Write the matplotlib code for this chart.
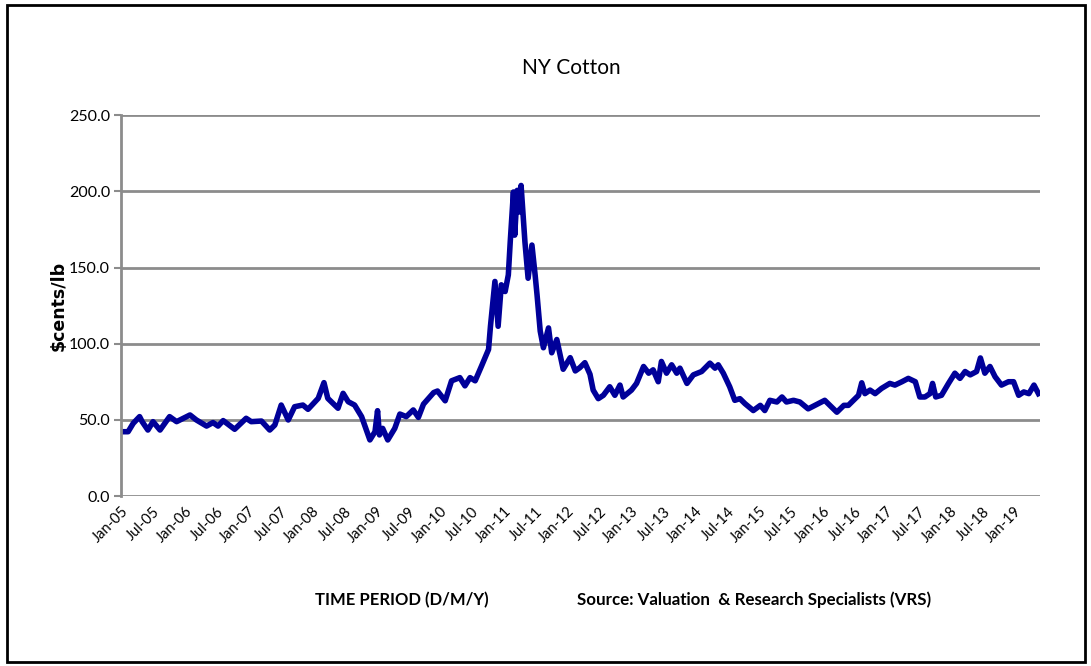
import matplotlib
matplotlib.use("Agg")
import matplotlib.pyplot as plt
from matplotlib.patches import Rectangle

# NY Cotton price (decimal year, cents/lb)
years = [
    2005.00, 2005.11, 2005.19, 2005.29, 2005.33, 2005.42, 2005.50, 2005.61,
    2005.76, 2005.87, 2006.08, 2006.18, 2006.34, 2006.44, 2006.52, 2006.60,
    2006.78, 2006.96, 2007.04, 2007.20, 2007.33, 2007.41, 2007.51, 2007.62,
    2007.72, 2007.85, 2007.93, 2008.09, 2008.18, 2008.24, 2008.40, 2008.48,
    2008.56, 2008.66, 2008.77, 2008.90, 2008.98, 2009.02, 2009.05, 2009.10,
    2009.18, 2009.29, 2009.37, 2009.47, 2009.58, 2009.66, 2009.74, 2009.90,
    2009.96, 2010.08, 2010.18, 2010.31, 2010.39, 2010.47, 2010.55, 2010.65,
    2010.76, 2010.79, 2010.86, 2010.91, 2010.96, 2011.02, 2011.07, 2011.10,
    2011.15, 2011.17, 2011.21, 2011.24, 2011.27, 2011.33, 2011.38, 2011.44,
    2011.49, 2011.52, 2011.57, 2011.62, 2011.70, 2011.75, 2011.83, 2011.93,
    2012.04, 2012.12, 2012.19, 2012.27, 2012.35, 2012.40, 2012.48, 2012.56,
    2012.66, 2012.74, 2012.82, 2012.87, 2013.00, 2013.08, 2013.19, 2013.27,
    2013.34, 2013.42, 2013.47, 2013.55, 2013.63, 2013.71, 2013.76, 2013.87,
    2013.97, 2014.10, 2014.23, 2014.31, 2014.36, 2014.44, 2014.54, 2014.62,
    2014.70, 2014.78, 2014.91, 2015.02, 2015.09, 2015.17, 2015.28, 2015.36,
    2015.43, 2015.54, 2015.64, 2015.77, 2015.93, 2016.03, 2016.14, 2016.22,
    2016.33, 2016.40, 2016.48, 2016.56, 2016.61, 2016.66, 2016.74, 2016.82,
    2016.92, 2017.05, 2017.13, 2017.24, 2017.34, 2017.45, 2017.52, 2017.60,
    2017.68, 2017.72, 2017.77, 2017.86, 2017.97, 2018.07, 2018.15, 2018.23,
    2018.31, 2018.41, 2018.47, 2018.54, 2018.62, 2018.70, 2018.80, 2018.91,
    2018.99, 2019.07, 2019.15, 2019.23, 2019.31, 2019.38,
]
price = [
    42.3, 42.3, 47.8, 52.2, 48.9, 43.4, 48.9, 43.4,
    52.2, 48.9, 53.3, 50.0, 46.0, 48.3, 46.0, 49.6,
    43.9, 51.1, 48.9, 49.3, 43.4, 46.7, 59.8, 50.0,
    58.7, 59.8, 57.0, 64.2, 74.5, 64.2, 57.7, 67.5,
    62.0, 59.8, 52.2, 36.9, 42.3, 56.1, 40.2, 44.5,
    36.9, 44.5, 53.9, 52.2, 56.6, 51.7, 60.4, 68.0,
    69.0, 62.6, 75.7, 77.8, 72.4, 77.8, 75.7, 85.4,
    96.3, 111.5, 140.9, 111.5, 138.7, 134.3, 145.2, 167.0,
    199.6, 171.3, 200.7, 186.5, 203.9, 167.0, 143.0, 164.8,
    145.2, 132.2, 108.3, 97.4, 110.4, 94.1, 102.8, 83.3,
    90.9, 82.2, 84.3, 87.6, 80.0, 69.6, 64.0, 66.2,
    71.8, 66.2, 72.9, 65.1, 69.6, 74.0, 85.1, 80.7,
    82.9, 75.1, 88.4, 80.7, 86.2, 80.7, 84.0, 74.0,
    79.6, 81.8, 87.3, 84.0, 86.2, 80.7, 71.8, 62.9,
    64.0, 60.7, 56.2, 59.6, 56.2, 62.9, 61.8, 65.1,
    61.8, 62.9, 61.8, 57.3, 60.7, 62.9, 58.4, 55.1,
    59.6, 59.6, 62.9, 66.2, 74.4, 67.3, 69.6, 67.3,
    70.7, 74.0, 72.9, 75.1, 77.3, 75.1, 65.1, 65.1,
    67.3, 74.0, 65.1, 66.2, 74.0, 80.7, 77.3, 81.8,
    79.6, 81.8, 90.7, 80.7, 85.1, 78.4, 72.9, 75.1,
    75.1, 66.2, 68.4, 67.3, 72.9, 67.3,
]

tick_pos = [2005 + 0.5 * i for i in range(29)]
tick_labels = [("Jan-" if i % 2 == 0 else "Jul-") + f"{(5 + i // 2):02d}" for i in range(29)]
y_ticks = [0, 50, 100, 150, 200, 250]

font = ["Lato", "DejaVu Sans"]
grid_col = "#8c8c8c"

fig = plt.figure(figsize=(10.91, 6.66), dpi=100)
ax = fig.add_axes([0.111, 0.255, 0.842, 0.572])

ax.plot(years, price, color="#000099", lw=4, solid_joinstyle="round")

ax.set_ylim(0, 250)
ax.set_xlim(2005.0, 2019.40)
ax.set_yticks(y_ticks)
ax.set_yticklabels([f"{v:.1f}" for v in y_ticks], family=font, fontsize=11.5)
ax.set_xticks(tick_pos)
ax.set_xticklabels(tick_labels, rotation=45, ha="right", rotation_mode="anchor",
                   family=font, fontsize=10.5)
ax.yaxis.grid(True, color=grid_col, lw=2)
ax.set_axisbelow(True)
for side in ["top", "right", "bottom"]:
    ax.spines[side].set_visible(False)
ax.spines["left"].set_color(grid_col)
ax.spines["left"].set_linewidth(2)
ax.tick_params(axis="y", color=grid_col, width=1.5, length=5, pad=3)
ax.tick_params(axis="x", length=0, pad=6)

ax.set_ylabel("$cents/lb", fontsize=12.5, fontweight="bold")
ax.yaxis.set_label_coords(-0.058, 0.5)

fig.text(0.524, 0.898, "NY Cotton", family=font, fontsize=15, ha="center", va="center")
fig.text(0.368, 0.099, "TIME PERIOD (D/M/Y)", family=font, fontsize=12,
         fontweight="bold", ha="center", va="center")
fig.text(0.691, 0.099, "Source: Valuation  & Research Specialists (VRS)", family=font,
         fontsize=12.2, fontweight="bold", ha="center", va="center")

# outer frame
fig.patches.append(Rectangle((0.0065, 0.006), 0.988, 0.987, transform=fig.transFigure,
                             fill=False, edgecolor="black", lw=2))

fig.savefig("out.png", dpi=100)
